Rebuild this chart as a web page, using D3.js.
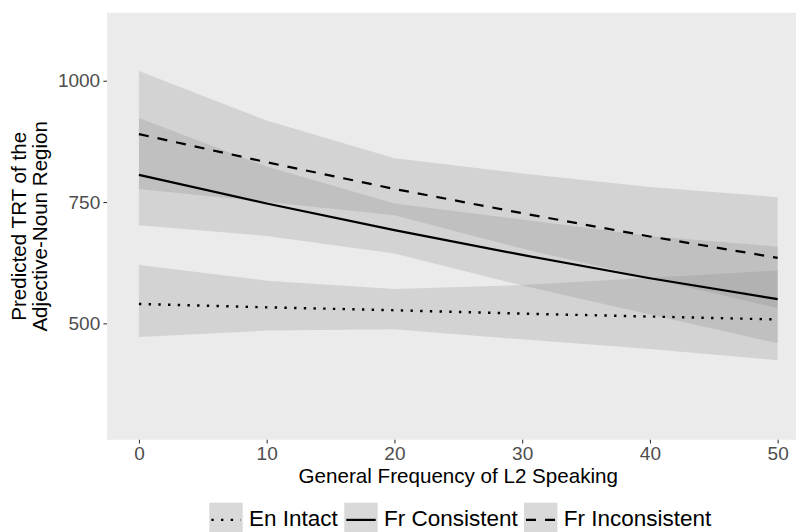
<!DOCTYPE html>
<html><head><meta charset="utf-8">
<script src="https://cdn.jsdelivr.net/npm/d3@7"></script>
<style>body{margin:0;background:#fff}svg{display:block}text{font-family:"Liberation Sans",Arial,sans-serif}</style>
</head><body>
<svg id="chart" width="796" height="532"></svg>
<script>
const xVals = [0, 10, 20, 30, 40, 50];
const seriesNames = ["En Intact", "Fr Consistent", "Fr Inconsistent"];
const enFit     = [540, 533, 527, 520, 514, 508];
const enLower   = [472, 485, 488, 467, 447, 424];
const enUpper   = [620, 588, 571, 579, 594, 609];
const consFit   = [806, 747, 692, 641, 593, 550];
const consLower = [702, 680, 644, 578, 518, 459];
const consUpper = [923, 823, 747, 714, 680, 658];
const incFit    = [890, 832, 777, 727, 679, 635];
const incLower  = [777, 750, 723, 654, 593, 531];
const incUpper  = [1020, 918, 840, 809, 781, 760];
const xTicks = [0, 10, 20, 30, 40, 50];
const yTicks = [500, 750, 1000];
const xTitle = "General Frequency of L2 Speaking";
const yTitleLines = ["Predicted TRT of the", "Adjective-Noun Region"];

const series = [
  {name: seriesNames[0], fit: enFit, lo: enLower, hi: enUpper, dash: "2.4,7.3"},
  {name: seriesNames[1], fit: consFit, lo: consLower, hi: consUpper, dash: null},
  {name: seriesNames[2], fit: incFit, lo: incLower, hi: incUpper, dash: "10,9"}
];

const svg = d3.select("#chart");
const P = {left: 107, right: 809.6, top: 12.8, bottom: 439.8};
const x = d3.scaleLinear().domain([-2.5, 52.5]).range([P.left, P.right]);
const y = d3.scaleLinear().domain([260, 1140]).range([P.bottom, P.top]);

svg.append("rect").attr("x", P.left).attr("y", P.top)
  .attr("width", P.right - P.left).attr("height", P.bottom - P.top).attr("fill", "#EBEBEB");

const ribbonFill = "#7E7E7E", ribbonAlpha = 0.22;
const area = d3.area().x((d) => x(d.x)).y0((d) => y(d.lo)).y1((d) => y(d.hi));
const line = d3.line().x((d) => x(d.x)).y((d) => y(d.v));

series.forEach((s) => {
  const pts = xVals.map((xv, i) => ({x: xv, lo: s.lo[i], hi: s.hi[i]}));
  svg.append("path").attr("d", area(pts)).attr("fill", ribbonFill).attr("fill-opacity", ribbonAlpha);
});
series.forEach((s) => {
  const pts = xVals.map((xv, i) => ({x: xv, v: s.fit[i]}));
  const p = svg.append("path").attr("d", line(pts)).attr("fill", "none")
    .attr("stroke", "#000").attr("stroke-width", s.dash && s.dash.startsWith("2.4") ? 2.4 : 2.2);
  if (s.dash) p.attr("stroke-dasharray", s.dash);
});

// axes
const xAxis = svg.append("g").attr("transform", `translate(0,${P.bottom})`)
  .call(d3.axisBottom(x).tickValues(xTicks).tickSize(3.6).tickPadding(4).tickFormat(d3.format("d")));
const yAxis = svg.append("g").attr("transform", `translate(${P.left},0)`)
  .call(d3.axisLeft(y).tickValues(yTicks).tickSize(3.6).tickPadding(3.2).tickFormat(d3.format("d")));
[xAxis, yAxis].forEach((g) => {
  g.select(".domain").remove();
  g.selectAll(".tick line").attr("stroke", "#333333").attr("stroke-width", 1.07);
  g.selectAll(".tick text").attr("fill", "#4D4D4D").style("font-size", "19px")
    .style("font-family", '"Liberation Sans", Arial, sans-serif');
});
xAxis.selectAll(".tick text").attr("dy", "0.66em");

svg.append("text").attr("x", (P.left + P.right) / 2).attr("y", 483.3)
  .attr("text-anchor", "middle").style("font-size", "20.6px").attr("fill", "#000").text(xTitle);

const cy = (P.top + P.bottom) / 2;
yTitleLines.forEach((t, i) => {
  svg.append("text").attr("transform", `translate(${25.5 + i * 21.5},${cy}) rotate(-90)`)
    .attr("text-anchor", "middle").style("font-size", "20.6px").attr("fill", "#000").text(t);
});

// legend
const keyX = [209.3, 344.3, 524];
const keyW = 33.4, keyY = 502.7, keyH = 33.4;
series.forEach((s, i) => {
  const g = svg.append("g").attr("transform", `translate(${keyX[i]},${keyY})`);
  g.append("rect").attr("width", keyW).attr("height", keyH).attr("fill", "#F2F2F2");
  g.append("rect").attr("width", keyW).attr("height", keyH).attr("fill", ribbonFill).attr("fill-opacity", ribbonAlpha);
  const l = g.append("line").attr("x1", 2).attr("x2", keyW - 2).attr("y1", 17.2).attr("y2", 17.2)
    .attr("stroke", "#000").attr("stroke-width", s.dash && s.dash.startsWith("2.4") ? 2.4 : 2.2);
  if (s.dash) l.attr("stroke-dasharray", s.dash);
  svg.append("text").attr("x", keyX[i] + keyW + 6.3).attr("y", 526)
    .style("font-size", "22.5px").attr("fill", "#000").text(s.name);
});
</script>
</body></html>
